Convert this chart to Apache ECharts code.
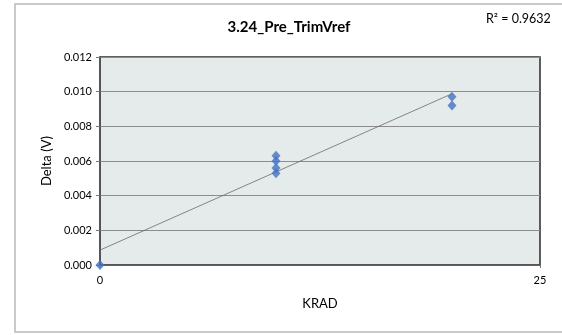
<!DOCTYPE html>
<html><head><meta charset="utf-8">
<script src="https://cdn.jsdelivr.net/npm/echarts@6/dist/echarts.min.js"></script>
<style>html,body{margin:0;padding:0;background:#fff}#c{width:562px;height:335px}</style>
</head><body><div id="c"></div>
<script>
var titleText = '3.24_Pre_TrimVref';
var r2Text = 'R² = 0.9632';
var krad = [0, 10, 10, 10, 10, 20, 20];
var delta = [0.0000, 0.0063, 0.0060, 0.0056, 0.0053, 0.0097, 0.0092];
var yTicks = {min: 0, max: 0.012, interval: 0.002};
var xTicks = {min: 0, max: 25, interval: 25};

// least squares trendline from the data
var n = krad.length, sx = 0, sy = 0, sxx = 0, sxy = 0;
for (var i = 0; i < n; i++) { sx += krad[i]; sy += delta[i]; sxx += krad[i]*krad[i]; sxy += krad[i]*delta[i]; }
var slope = (n*sxy - sx*sy) / (n*sxx - sx*sx);
var icpt = (sy - slope*sx) / n;
var xmin = Math.min.apply(null, krad), xmax = Math.max.apply(null, krad);
var trend = [[xmin, icpt + slope*xmin], [xmax, icpt + slope*xmax]];

var font = 'Lato, "Open Sans", sans-serif';
var chart = echarts.init(document.getElementById('c'), null, {renderer: 'canvas'});
chart.setOption({
  animation: false,
  graphic: [
    {type: 'rect', shape: {x: 15, y: 4, width: 600, height: 328}, style: {fill: 'none', stroke: '#b9b9b9', lineWidth: 1.5}, z: -10},
    {type: 'text', left: 486, top: 12, style: {text: r2Text, font: '12.5px ' + font, fill: '#000'}}
  ],
  title: {text: titleText, left: 289, top: 20, textAlign: 'center', padding: 0,
    textStyle: {fontFamily: font, fontSize: 15, fontWeight: 'bold', color: '#000'}},
  grid: {left: 100, right: 22, top: 57, bottom: 70, show: true, backgroundColor: '#e5ebeb',
    borderColor: '#2a2a2a', borderWidth: 1.5},
  xAxis: {type: 'value', min: xTicks.min, max: xTicks.max, interval: xTicks.interval,
    name: 'KRAD', nameLocation: 'middle', nameGap: 32,
    nameTextStyle: {fontFamily: font, fontSize: 13, color: '#000'},
    axisLine: {lineStyle: {color: '#555', width: 1.5}},
    axisTick: {show: true, length: 3, lineStyle: {color: '#777'}},
    axisLabel: {fontFamily: font, fontSize: 11, color: '#000', margin: 10},
    splitLine: {show: false}},
  yAxis: {type: 'value', min: yTicks.min, max: yTicks.max, interval: yTicks.interval,
    name: 'Delta (V)', nameLocation: 'middle', nameGap: 47, nameRotate: 90,
    nameTextStyle: {fontFamily: font, fontSize: 13, color: '#000'},
    axisLine: {show: true, lineStyle: {color: '#555', width: 1.5}},
    axisTick: {show: true, length: 4, lineStyle: {color: '#777'}},
    axisLabel: {fontFamily: font, fontSize: 11, color: '#000', margin: 8,
      formatter: function (v) { return v.toFixed(3); }},
    splitLine: {show: true, lineStyle: {color: '#8c8c8c', width: 1}}},
  series: [
    {type: 'line', data: trend, symbol: 'none', lineStyle: {color: '#6a6a6a', width: 0.8}, z: 2},
    {type: 'scatter', data: krad.map(function (x, i) { return [x, delta[i]]; }),
      symbol: 'diamond', symbolSize: [9, 10], itemStyle: {color: '#4472c4'}, z: 3}
  ]
});
</script></body></html>
